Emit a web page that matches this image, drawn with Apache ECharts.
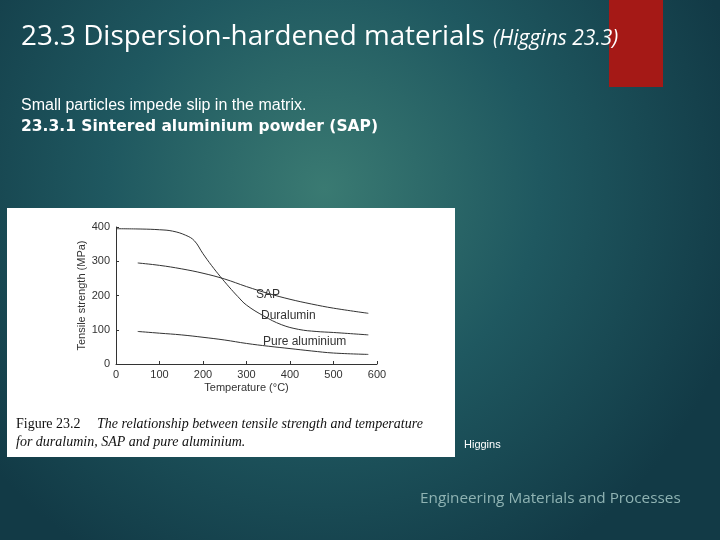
<!DOCTYPE html>
<html>
<head>
<meta charset="utf-8">
<script src="https://cdn.jsdelivr.net/npm/echarts@6/dist/echarts.min.js"></script>
<style>
  html, body { margin: 0; padding: 0; }
  #chart { width: 720px; height: 540px; }
</style>
</head>
<body>
<div id="chart"></div>
<script>
// values (temperature °C, tensile strength MPa)
var duralumin = [[0,395],[60,394],[100,392],[130,388],[160,376],[180,360],[200,322],[220,287],[240,255],[260,225],[280,197],[300,172],[340,140],[380,115],[420,101],[460,95],[500,92],[580,85]];
var sap = [[50,295],[100,288],[150,278],[200,265],[250,248],[300,226],[350,206],[400,189],[450,175],[500,163],[580,148]];
var pure = [[50,95],[100,90],[150,85],[200,78],[250,70],[300,60],[350,52],[400,45],[450,38],[500,32],[580,28]];
var xTicks = [0, 100, 200, 300, 400, 500, 600];

var chart = echarts.init(document.getElementById('chart'));
var lineStyle = { color: '#333', width: 1 };
function mkSeries(name, data) {
  return { name: name, type: 'line', data: data, smooth: 0.4, symbol: 'none', lineStyle: lineStyle, silent: true };
}
var serif = '"Liberation Serif", "DejaVu Serif", serif';

chart.setOption({
  backgroundColor: {
    type: 'radial', x: 0.45, y: 0.35, r: 0.8,
    colorStops: [{ offset: 0, color: '#3a7a72' }, { offset: 0.5, color: '#1f5860' }, { offset: 1, color: '#123a46' }]
  },
  graphic: [
    { type: 'rect', shape: { x: 609, y: 0, width: 54, height: 87 }, style: { fill: '#a51916' } },
    { type: 'text', left: 21, top: 23, style: { text: '23.3 Dispersion-hardened materials', fill: '#fff', font: '27.8px "Open Sans", sans-serif' } },
    { type: 'text', left: 493, top: 29, style: { text: '(Higgins 23.3)', fill: '#fff', font: 'italic 21px "Open Sans", sans-serif' } },
    { type: 'text', left: 21, top: 98, style: { text: 'Small particles impede slip in the matrix.', fill: '#fff', font: '16px "Liberation Sans", Arial, sans-serif' } },
    { type: 'text', left: 21, top: 119, style: { text: '23.3.1 Sintered aluminium powder (SAP)', fill: '#fff', font: 'bold 15.5px "DejaVu Sans", sans-serif' } },
    { type: 'rect', z: -1, shape: { x: 7, y: 208, width: 448, height: 249 }, style: { fill: '#fff' } },
    { type: 'text', left: 16, top: 417, style: { text: 'Figure 23.2', fill: '#111', font: '14px ' + serif } },
    { type: 'text', left: 97, top: 417, style: { text: 'The relationship between tensile strength and temperature', fill: '#111', font: 'italic 14px ' + serif } },
    { type: 'text', left: 16, top: 435, style: { text: 'for duralumin, SAP and pure aluminium.', fill: '#111', font: 'italic 14px ' + serif } },
    { type: 'text', left: 464, top: 439, style: { text: 'Higgins', fill: '#fff', font: '11px "Liberation Sans", Arial, sans-serif' } },
    { type: 'text', left: 420, top: 491, style: { text: 'Engineering Materials and Processes', fill: '#8fb3b3', font: '15.3px "Open Sans", sans-serif' } },
    { type: 'text', left: 256, top: 289, style: { text: 'SAP', fill: '#333', font: '12px "Liberation Sans", Arial, sans-serif' } },
    { type: 'text', left: 261, top: 310, style: { text: 'Duralumin', fill: '#333', font: '12px "Liberation Sans", Arial, sans-serif' } },
    { type: 'text', left: 263, top: 336, style: { text: 'Pure aluminium', fill: '#333', font: '12px "Liberation Sans", Arial, sans-serif' } }
  ],
  grid: { left: 116, right: 343, top: 227, bottom: 176 },
  xAxis: {
    type: 'value', min: 0, max: 600, interval: 100,
    name: 'Temperature (°C)', nameLocation: 'middle', nameGap: 18,
    nameTextStyle: { color: '#333', fontSize: 11 },
    axisLine: { lineStyle: { color: '#333' } }, axisTick: { show: true, length: 3, inside: true },
    axisLabel: { color: '#333', fontSize: 11, margin: 5, formatter: function (v) { return xTicks.indexOf(v) >= 0 ? v : ''; } },
    splitLine: { show: false }
  },
  yAxis: {
    type: 'value', min: 0, max: 400, interval: 100,
    name: 'Tensile strength (MPa)', nameLocation: 'middle', nameGap: 28,
    nameTextStyle: { color: '#333', fontSize: 11 },
    axisLine: { show: true, lineStyle: { color: '#333' } }, axisTick: { show: true, length: 3, inside: true },
    axisLabel: { color: '#333', fontSize: 11, margin: 6 },
    splitLine: { show: false }
  },
  series: [mkSeries('Duralumin', duralumin), mkSeries('SAP', sap), mkSeries('Pure aluminium', pure)]
});
</script>
</body>
</html>
